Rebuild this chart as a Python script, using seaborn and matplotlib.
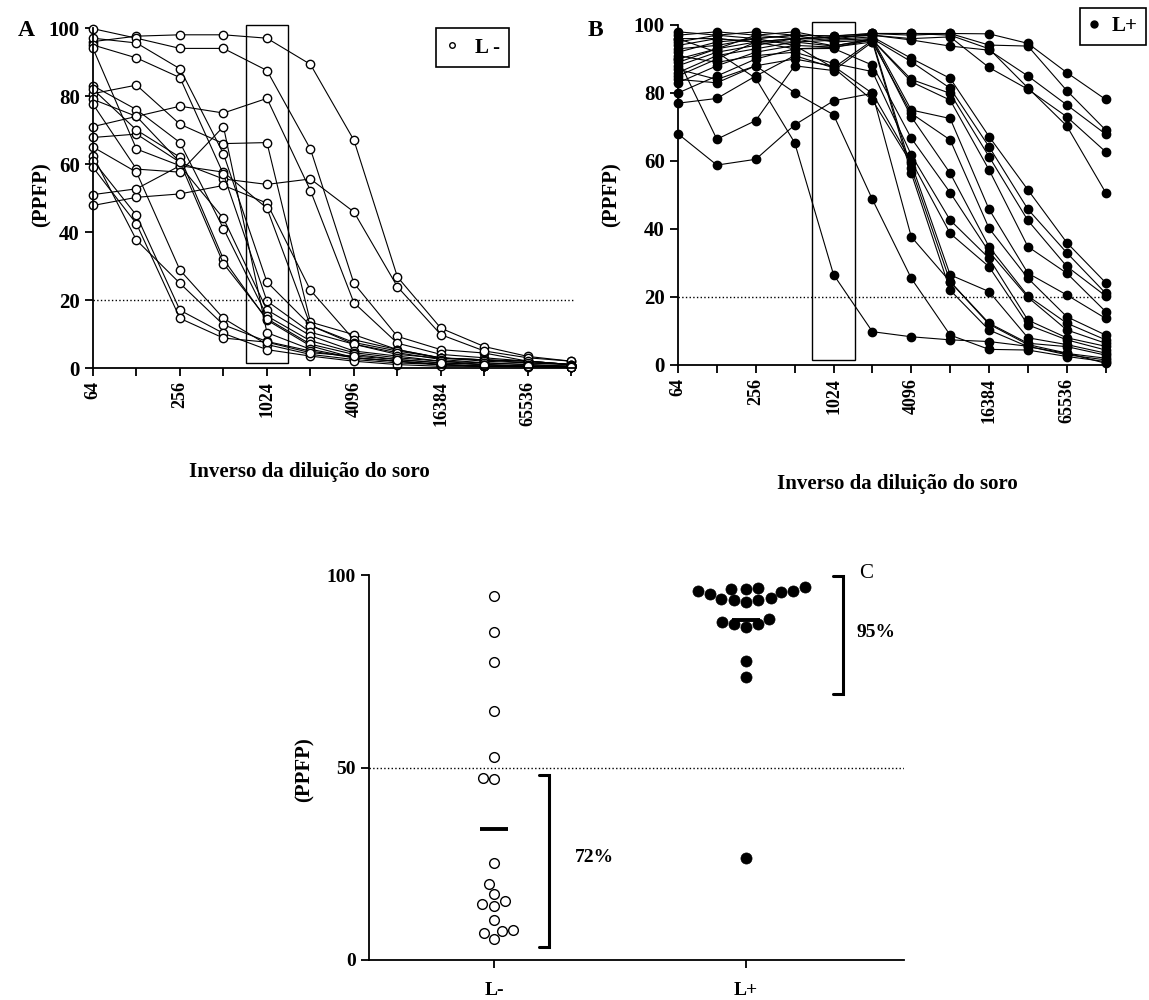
import matplotlib
matplotlib.use("Agg")
import matplotlib.pyplot as plt
from matplotlib.lines import Line2D
from matplotlib.patches import Rectangle
from matplotlib.ticker import NullLocator
import numpy as np
import pandas as pd
import seaborn as sns

# inverse serum dilutions (x axis of A and B)
dilutions = [64, 128, 256, 512, 1024, 2048, 4096, 8192, 16384, 32768, 65536, 131072]
labelled_dilutions = [64, 256, 1024, 4096, 16384, 65536]

# PPFP curves, one list per serum (L-)
neg_curves = [
    [96, 97.6, 98, 98, 97, 89.3, 67, 26.8, 11.7, 6.3, 3.4, 2.0],
    [99.8, 97, 94, 94, 87.5, 64.4, 24.9, 9.3, 5.4, 4.4, 2.0, 1.0],
    [71, 74, 77, 75, 79.3, 52.2, 19.2, 7.3, 4.0, 3.0, 2.0, 1.0],
    [80.7, 83.2, 71.7, 66, 66.3, 13.5, 9.8, 5.4, 2.9, 2.4, 2.0, 1.0],
    [67.8, 68.8, 60.5, 55.6, 54, 55.6, 45.9, 23.9, 9.8, 5.0, 3.0, 2.0],
    [47.8, 50.2, 51.2, 53.7, 48.5, 22.9, 8.3, 5.4, 3.0, 2.4, 1.5, 1.0],
    [51, 52.7, 59.5, 57.6, 47, 12.5, 7.0, 4.0, 2.9, 2.4, 2.0, 1.0],
    [97, 95.6, 88, 63, 25.3, 12.5, 7.5, 5.0, 3.0, 2.0, 1.5, 1.0],
    [95, 91.2, 85.4, 57, 19.7, 10.5, 7.0, 4.5, 2.5, 1.5, 1.0, 0.5],
    [94, 64.4, 59.5, 44, 17.1, 9.5, 5.0, 3.5, 2.0, 1.5, 1.0, 0.5],
    [83, 76, 66.3, 41, 15.3, 8.0, 4.5, 3.0, 2.0, 1.0, 0.5, 0.5],
    [82, 70, 62, 32, 14.1, 6.5, 3.0, 2.0, 1.0, 0.5, 0.5, 0.3],
    [79, 74, 60.5, 30.7, 14.5, 7.0, 4.0, 2.5, 1.5, 1.0, 0.5, 0.5],
    [77.6, 58.5, 57.6, 71, 10.4, 5.5, 3.0, 2.0, 1.0, 0.5, 0.5, 0.3],
    [65, 57.6, 28.8, 14.6, 6.9, 4.0, 2.5, 1.5, 1.0, 0.5, 0.5, 0.3],
    [62.4, 37.6, 24.9, 12.7, 7.8, 5.0, 3.0, 2.0, 1.0, 0.5, 0.5, 0.3],
    [61, 44.9, 17, 10.2, 5.4, 3.5, 2.0, 1.0, 0.5, 0.5, 0.3, 0.2],
    [59, 42.4, 14.6, 8.8, 7.6, 4.5, 3.5, 2.5, 1.5, 1.0, 0.5, 0.3],
]

# PPFP curves (L+)
pos_curves = [
    [92, 95, 96, 97, 96.8, 97.5, 97.5, 97.5, 97.4, 94.6, 86.0, 78.1],
    [95, 97, 98, 97, 96.7, 97.5, 97.0, 97.5, 94.1, 93.8, 80.7, 69.1],
    [88, 92, 94, 96, 96.4, 97.0, 95.6, 93.8, 92.6, 85.0, 76.5, 67.9],
    [85, 90, 95, 96, 96.4, 97.0, 96.0, 96.5, 87.5, 81.1, 73.0, 62.7],
    [90, 93, 97, 98, 95.8, 97.5, 97.5, 97.0, 93.0, 81.5, 70.3, 50.7],
    [97, 98, 97, 96, 95.8, 96.5, 90.2, 84.3, 67.2, 51.5, 36.0, 24.2],
    [96, 96, 95, 95, 95.5, 96.0, 89.2, 81.4, 64.2, 45.8, 33.0, 21.1],
    [93, 94, 96, 97, 95.0, 95.6, 84.0, 79.9, 61.3, 42.5, 29.0, 20.3],
    [89, 93, 95, 96, 93.9, 95.6, 83.3, 77.9, 57.4, 34.8, 27.0, 15.7],
    [86, 91, 93, 95, 93.8, 96.0, 75.0, 72.5, 45.8, 27.0, 20.6, 13.7],
    [83, 88, 92, 94, 93.5, 95.0, 74.0, 66.2, 40.2, 25.5, 14.2, 8.8],
    [80, 85, 90, 93, 93.4, 95.6, 73.0, 56.4, 34.8, 20.3, 12.3, 7.4],
    [94, 96, 95, 93, 93.1, 88.2, 66.7, 50.7, 33.3, 19.9, 10.3, 6.4],
    [91, 89, 91, 92, 88.7, 86.3, 61.8, 42.6, 31.4, 13.2, 8.0, 5.5],
    [87, 84, 88, 90, 87.9, 79.9, 60.0, 38.7, 28.9, 11.8, 7.4, 4.4],
    [98, 97, 96, 94, 87.4, 77.9, 59.3, 26.5, 21.6, 8.0, 6.0, 3.5],
    [77, 78.4, 85, 91, 87.4, 95.5, 57.8, 24.5, 12.3, 6.4, 5.4, 2.9],
    [90, 66.4, 71.9, 88, 86.6, 95.0, 56.4, 22.0, 10.3, 5.4, 3.4, 2.0],
    [84, 83, 88, 80.1, 73.6, 48.7, 25.5, 8.8, 4.6, 4.4, 2.5, 1.0],
    [96, 92, 84.3, 65.4, 26.6, 9.8, 8.3, 7.4, 6.9, 5.5, 3.0, 1.5],
    [68, 58.8, 60.5, 70.6, 77.7, 79.9, 37.7, 24.5, 12.0, 6.0, 3.5, 0.5],
]

# panel C: PPFP at 1/1024
neg_1024 = [94.5, 85.3, 77.5, 64.8, 52.6, 46.9, 47.4, 25.3, 19.7, 17.1,
            15.3, 14.1, 14.5, 10.4, 6.9, 7.8, 5.4, 7.6]
pos_1024 = [93.1, 95.8, 93.5, 96.7, 93.9, 96.8, 95.5, 95.8, 93.4, 96.4, 93.8,
            96.4, 95.0, 87.4, 87.9, 86.6, 87.4, 88.7, 77.7, 73.6, 26.6]

groups = ["L-", "L+"]
curve_cutoff = 20
scatter_cutoff = 50


def long_form(curves):
    rows = []
    for i, curve in enumerate(curves):
        for d, v in zip(dilutions, curve):
            rows.append((i, d, v))
    return pd.DataFrame(rows, columns=["serum", "dilution", "ppfp"])


sns.set_style("ticks")
plt.rcParams["font.family"] = ["Liberation Serif", "DejaVu Serif"]
plt.rcParams["font.weight"] = "bold"
plt.rcParams["text.color"] = "black"
plt.rcParams["axes.labelcolor"] = "black"
plt.rcParams["axes.edgecolor"] = "black"
plt.rcParams["axes.linewidth"] = 1.3
plt.rcParams["xtick.major.width"] = 1.3
plt.rcParams["ytick.major.width"] = 1.3
plt.rcParams["xtick.major.size"] = 6
plt.rcParams["ytick.major.size"] = 6
plt.rcParams["xtick.color"] = "black"
plt.rcParams["ytick.color"] = "black"
plt.rcParams["xtick.labelcolor"] = "black"
plt.rcParams["ytick.labelcolor"] = "black"

W, H = 1149, 1000
fig = plt.figure(figsize=(W / 100, H / 100), dpi=100)


def px_axes(x0, x1, y_top, y_bottom):
    return fig.add_axes([x0 / W, 1 - y_bottom / H, (x1 - x0) / W, (y_bottom - y_top) / H])


def curve_panel(ax, curves, facecolor, box_half, right_pad):
    df = long_form(curves)
    sns.lineplot(data=df, x="dilution", y="ppfp", units="serum", estimator=None,
                 color="black", lw=0.8, marker="o", markersize=6,
                 markerfacecolor=facecolor, markeredgecolor="black",
                 markeredgewidth=1.0, legend=False, ax=ax)
    for line in ax.lines:
        line.set_clip_on(False)
    ax.set_xscale("log", base=2)
    ax.set_xlim(dilutions[0], dilutions[-1] * right_pad)
    ax.set_ylim(0, 100)
    ax.set_xticks(dilutions)
    ax.set_xticklabels([str(d) if d in labelled_dilutions else "" for d in dilutions],
                       rotation=90, fontsize=13, fontweight="bold")
    ax.xaxis.set_minor_locator(NullLocator())
    ax.set_yticks(range(0, 101, 20))
    ax.set_yticklabels([str(v) for v in range(0, 101, 20)], fontsize=15, fontweight="bold")
    ax.axhline(curve_cutoff, color="black", ls=":", lw=1)
    ax.add_patch(Rectangle((1024 / 2 ** box_half, 1.5),
                           1024 * 2 ** box_half - 1024 / 2 ** box_half, 99.5,
                           fill=False, ec="black", lw=1, clip_on=False))
    ax.set_xlabel("")
    ax.set_ylabel("")
    sns.despine(ax=ax)


# panel A
ax_a = px_axes(93, 575, 28, 368)
curve_panel(ax_a, neg_curves, "white", 0.49, 1.06)
ax_a.legend(handles=[Line2D([], [], ls="none", marker="o", markersize=4,
                            markerfacecolor="white", markeredgecolor="black")],
            labels=["L -"], loc="upper left", bbox_to_anchor=(426 / W, 1 - 18 / H),
            bbox_transform=fig.transFigure, frameon=True, fancybox=False,
            edgecolor="black", framealpha=1, handlelength=0.6, handletextpad=0.8,
            borderpad=0.45, prop={"size": 15, "weight": "bold"})
ax_a.get_legend().get_frame().set_linewidth(1.2)

# panel B
ax_b = px_axes(678, 1110, 25, 365)
curve_panel(ax_b, pos_curves, "black", 0.55, 1.08)
ax_b.legend(handles=[Line2D([], [], ls="none", marker="o", markersize=5,
                            markerfacecolor="black", markeredgecolor="black")],
            labels=["L+"], loc="upper left", bbox_to_anchor=(1080 / W, 1 - 8 / H),
            bbox_transform=fig.transFigure, frameon=True, fancybox=False,
            edgecolor="black", framealpha=1, handlelength=0.5, handletextpad=0.6,
            borderpad=0.4, borderaxespad=0, prop={"size": 15, "weight": "bold"})
ax_b.get_legend().get_frame().set_linewidth(1.2)

fig.text(18 / W, 1 - 30 / H, "A", fontsize=17, va="center")
fig.text(588 / W, 1 - 30 / H, "B", fontsize=17, va="center")
for xc, yc in [(42, 195), (612, 195)]:
    fig.text(xc / W, 1 - yc / H, "(PPFP)", rotation=90, fontsize=15,
             ha="center", va="center")
fig.text(309 / W, 1 - 472 / H, "Inverso da diluição do soro", fontsize=15,
         ha="center", va="center")
fig.text(897 / W, 1 - 484 / H, "Inverso da diluição do soro", fontsize=15,
         ha="center", va="center")

# panel C
ax_c = px_axes(369, 904, 575, 960)
df_c = pd.DataFrame({"group": ["L-"] * len(neg_1024) + ["L+"] * len(pos_1024),
                     "ppfp": neg_1024 + pos_1024})
sns.swarmplot(data=df_c[df_c.group == "L-"], x="group", y="ppfp", order=groups,
              color="white", edgecolor="black", linewidth=1.0, size=7, ax=ax_c)
sns.swarmplot(data=df_c[df_c.group == "L+"], x="group", y="ppfp", order=groups,
              color="black", edgecolor="black", linewidth=0.5, size=8, ax=ax_c)
for coll in ax_c.collections:
    coll.set_clip_on(False)

for i, vals in enumerate([neg_1024, pos_1024]):
    ax_c.hlines(np.mean(vals), i - 0.055, i + 0.055, color="black", lw=2.8)

ax_c.axhline(scatter_cutoff, color="black", ls=":", lw=1)
ax_c.set_xlim(-0.496, 1.627)
ax_c.set_ylim(0, 100)
ax_c.set_yticks([0, 50, 100])
ax_c.set_yticklabels(["0", "50", "100"], fontsize=14, fontweight="bold")
ax_c.set_xticks([0, 1])
ax_c.set_xticklabels(groups, fontsize=14, fontweight="bold")
ax_c.tick_params(axis="x", pad=10)
ax_c.set_xlabel("")
ax_c.set_ylabel("")
sns.despine(ax=ax_c)

neg_arr = np.array(neg_1024)
pos_arr = np.array(pos_1024)
pct_neg = round(100 * np.mean(neg_arr < scatter_cutoff))
pct_pos = round(100 * np.mean(pos_arr > scatter_cutoff))


def bracket(ax, x, y0, y1, text, tx, ty):
    ax.plot([x - 0.04, x, x, x - 0.04], [y0, y0, y1, y1], color="black",
            lw=2.2, clip_on=False, solid_joinstyle="miter")
    ax.text(tx, ty, text, fontsize=14, ha="left", va="center")


bracket(ax_c, 0.218, 3.5, 48, f"{pct_neg}%", 0.32, 26.5)
bracket(ax_c, 1.385, 69, 99.8, f"{pct_pos}%", 1.44, 85)
ax_c.text(1.45, 100.5, "C", fontsize=15, ha="left", va="center", fontweight="normal")
fig.text(305 / W, 1 - 770 / H, "(PPFP)", rotation=90, fontsize=15,
         ha="center", va="center")

fig.savefig("out.png", dpi=100)
